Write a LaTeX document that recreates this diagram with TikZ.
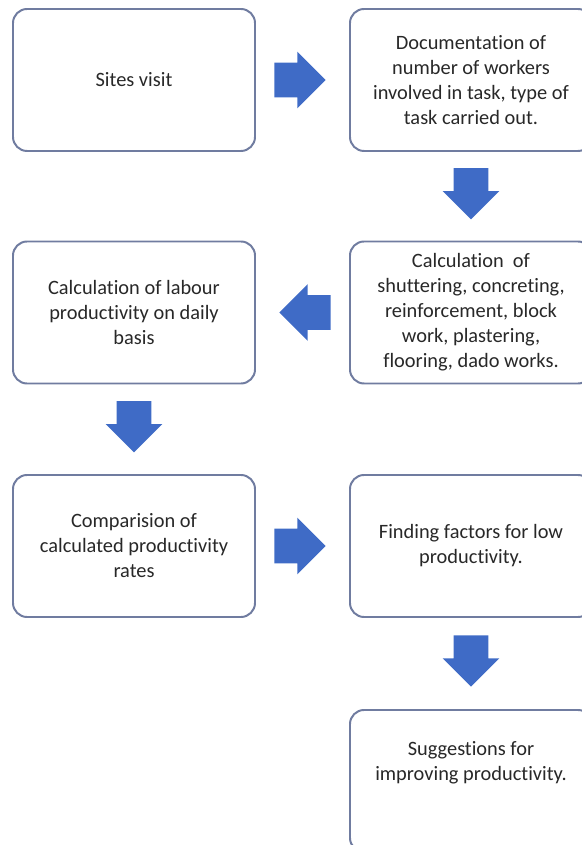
\documentclass[tikz,border=0pt]{standalone}
\usepackage{fontspec}
\setmainfont{Carlito}[Ligatures=CommonOff]
\usepackage{xcolor}
\definecolor{flowblue}{RGB}{63,107,198}
\definecolor{flowedge}{RGB}{112,124,160}
\definecolor{flowtext}{RGB}{40,40,40}
\usetikzlibrary{arrows.meta,positioning,shapes.arrows,calc}

\begin{document}
\begin{tikzpicture}[
  stepbox/.style={draw=flowedge, line width=1.4pt, fill=white, rounded corners=10pt, minimum width=6.05cm, minimum height=3.55cm, font=\fontsize{14.5}{17.8}\selectfont, align=center, text=flowtext},
  blockarrow/.style={single arrow, fill=flowblue, draw=none, inner xsep=0pt, inner ysep=0.43cm, minimum height=1.28cm, single arrow head extend=0.27cm, rotate=#1, xshift=-0.28cm},
  blockarrow/.default=0
]
  \useasboundingbox (0,0) rectangle (14.55,21.125);
  \clip (0,0) rectangle (14.55,21.125);

  %--- Top row ---
  \node[stepbox] (site) at (3.35,19.125) {Sites visit};
  \node[stepbox] (docs) at (11.775,19.125) {Documentation of\\number of workers\\involved in task, type of\\task carried out.};

  %--- Middle row ---
  \node[stepbox] (labour) at (3.35,13.3125) {Calculation of labour\\productivity on daily\\basis};
  \node[stepbox] (works) at (11.775,13.3125) {Calculation~ of\\shuttering, concreting,\\reinforcement, block\\work, plastering,\\flooring, dado works.};

  %--- Lower row ---
  \node[stepbox] (compare) at (3.35,7.475) {Comparision of\\calculated productivity\\rates};
  \node[stepbox] (factors) at (11.775,7.475) {Finding factors for low\\productivity.};

  % Last step
  \node[stepbox, text depth=1.0cm] (suggest) at (11.775,1.6) {Suggestions for\\improving productivity.};

  %--- Block arrows between the steps ---
  \node[blockarrow] (a1) at ($(site.east)!0.5!(docs.west)$) {};
  \node[blockarrow=-90] (a2) at ($(docs.south)!0.5!(works.north)$) {};
  \node[blockarrow=180] (a3) at ($(works.west)!0.5!(labour.east)$) {};
  \node[blockarrow=-90] (a4) at ($(labour.south)!0.5!(compare.north)$) {};
  \node[blockarrow] (a5) at ($(compare.east)!0.5!(factors.west)$) {};
  \node[blockarrow=-90] (a6) at ($(factors.south)!0.5!(suggest.north)$) {};
\end{tikzpicture}
\end{document}
